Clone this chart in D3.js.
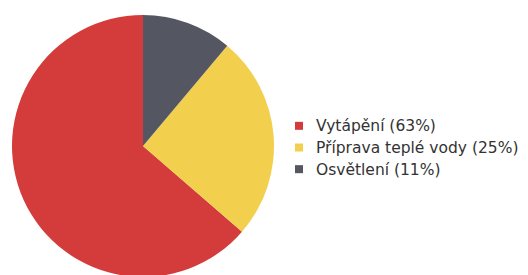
<!DOCTYPE html>
<meta charset="utf-8">
<style>
body { margin: 0; background: #fff; }
.legend text { font-family: "DejaVu Sans", sans-serif; font-size: 15.5px; fill: #333; }
</style>
<svg width="528" height="275"></svg>
<script src="https://d3js.org/d3.v7.min.js"></script>
<script>
const labels = ["Vytápění (63%)", "Příprava teplé vody (25%)", "Osvětlení (11%)"];
const values = [63, 25, 11];
const colors = ["#d43c3b", "#f2d04e", "#545762"];

const svg = d3.select("svg");
const cx = 143, cy = 146, r = 131;

// red goes counter-clockwise from 12 o'clock, so gray ends up right of the top
const pie = d3.pie().sort(null).startAngle(0).endAngle(-2 * Math.PI);
const arc = d3.arc().innerRadius(0).outerRadius(r);

svg.append("g")
  .attr("transform", `translate(${cx},${cy})`)
  .selectAll("path")
  .data(pie(values))
  .join("path")
  .attr("d", arc)
  .attr("fill", (d, i) => colors[i]);

const y = d3.scaleBand().domain(d3.range(labels.length)).range([115, 180]);

const legend = svg.append("g").attr("class", "legend");
const item = legend.selectAll("g")
  .data(labels)
  .join("g")
  .attr("transform", (d, i) => `translate(295,${y(i) + y.bandwidth() / 2})`);

item.append("rect")
  .attr("x", 0).attr("y", -4)
  .attr("width", 8).attr("height", 8)
  .attr("fill", (d, i) => colors[i]);

item.append("text")
  .attr("x", 21)
  .attr("dy", "0.35em")
  .text(d => d);
</script>
